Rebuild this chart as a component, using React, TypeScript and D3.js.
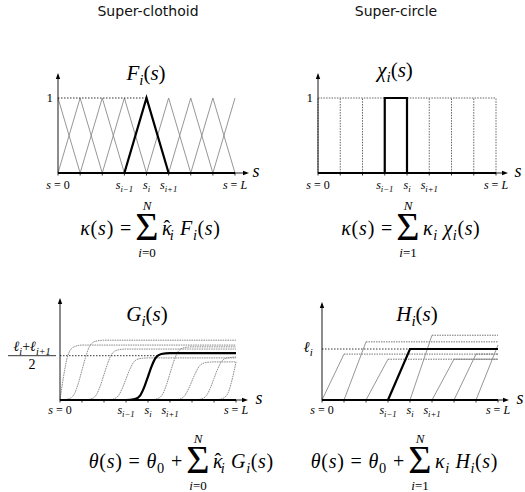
import React from 'react';
import * as d3 from 'd3';

// knots s_0 .. s_N (uniform), the highlighted index i
const knots = [0, 1, 2, 3, 4, 5, 6, 7, 8];
const active = 4;

// tick labels under the s axis: knot index -> label
const tickKnots = [0, 3, 4, 5, 8];

// plateau heights of G_0..G_8 (unit = (l_i + l_{i+1}) / 2)
const gLevels = [1.24, 1.35, 1.15, 0.95, 1.06, 1.2, 0.86, 0.97, 0.86];
// plateau heights of H_1..H_8 (unit = l_i)
const hLevels = [0.9, 1.14, 0.8, 1.0, 1.27, 0.8, 0.9, 1.08];

// S profile of G_j around its knot: [offset in knots, fraction of plateau]
const sProfile: [number, number][] = [
  [-1, 0], [-0.6, 0.02], [-0.35, 0.1], [-0.15, 0.3], [0, 0.5],
  [0.15, 0.7], [0.35, 0.9], [0.6, 0.98], [1, 1],
];

const MATH = 'Liberation Serif';
const SANS = 'DejaVu Sans';
const GRAY = '#8a8a8a';

type Tok = { t: string; it?: boolean; sub?: boolean; hat?: boolean };

function MathText({ x, y, toks, size, anchor = 'start', spacing }:
  { x: number; y: number; toks: Tok[]; size: number; anchor?: string; spacing?: number }) {
  let inSub = false;
  let pendDx = 0;
  const shift = size * 0.25;
  const spans: React.ReactNode[] = [];
  toks.forEach((tk, k) => {
    let dy: number | undefined;
    if (tk.sub && !inSub) dy = shift;
    else if (!tk.sub && inSub) dy = -shift;
    inSub = !!tk.sub;
    const fs = tk.sub ? size * 0.72 : size;
    spans.push(
      <tspan key={k} dx={pendDx || undefined} dy={dy} fontStyle={tk.it ? 'italic' : 'normal'} fontSize={fs}>{tk.t}</tspan>
    );
    pendDx = 0;
    if (tk.hat) {
      // circumflex placed over the previous glyph
      spans.push(
        <tspan key={k + 'h'} dx={-fs * 0.4 - (spacing || 0)} fontSize={fs}>{'\u02c6'}</tspan>
      );
      pendDx = -fs * 0.05;
    }
  });
  return (
    <text x={x} y={y} textAnchor={anchor} fontSize={size} fontFamily={MATH} letterSpacing={spacing}
      fill="#000" style={{ whiteSpace: 'pre' }}>{spans}</text>
  );
}

const tickToks = (k: number): Tok[] => {
  if (k === 0) return [{ t: 's', it: true }, { t: ' = 0' }];
  if (k === knots.length - 1) return [{ t: 's', it: true }, { t: ' = ' }, { t: 'L', it: true }];
  const d = k - active;
  const sub = d === 0 ? 'i' : d < 0 ? `i\u2212${-d}` : `i+${d}`;
  return [{ t: 's', it: true }, { t: sub, it: true, sub: true }];
};

type Panel = { x0: number; x1: number; y0: number; y1: number; yTop: number; xEnd: number };

function Frame({ p, x, labelY, sLabelX }: { p: Panel; x: d3.ScaleLinear<number, number>; labelY: number; sLabelX: number }) {
  return (
    <g>
      <line x1={p.x0} y1={p.y0} x2={p.x0} y2={p.yTop + 4} stroke="#000" strokeWidth={0.9} />
      <path d={`M${p.x0},${p.yTop} l-2.2,6 l4.4,0 z`} fill="#000" />
      <line x1={p.x0} y1={p.y0} x2={p.xEnd - 4} y2={p.y0} stroke="#000" strokeWidth={0.9} />
      <path d={`M${p.xEnd},${p.y0} l-6,-2.2 l0,4.4 z`} fill="#000" />
      {knots.map(k => (
        <line key={k} x1={x(k)} x2={x(k)} y1={p.y0} y2={p.y0 + 2.5} stroke="#000" strokeWidth={0.8} />
      ))}
      {tickKnots.map(k => (
        <MathText key={k} x={x(k)} y={labelY} toks={tickToks(k)} size={12} anchor="middle" />
      ))}
      <MathText x={sLabelX} y={p.y0 + 4} toks={[{ t: 's', it: true }]} size={18} anchor="middle" />
      {/* bold zero line of the highlighted function */}
      <line x1={x(0)} x2={x(knots.length - 1)} y1={p.y0} y2={p.y0} stroke="#000" strokeWidth={2.2} />
    </g>
  );
}

// a display formula: left part ends before the sum sign at cx, right part starts after it
function Formula({ y, cx, left, right, lower }:
  { y: number; cx: number; left: Tok[]; right: Tok[]; lower: string }) {
  return (
    <g>
      <MathText x={cx - 15} y={y} size={20} anchor="end" spacing={0.8} toks={left} />
      <text x={cx} y={y - 25} textAnchor="middle" fontStyle="italic" fontSize={13} fontFamily={MATH}>N</text>
      <text x={cx} y={y + 5} textAnchor="middle" fontSize={40} fontFamily={MATH}>{'\u03a3'}</text>
      <MathText x={cx} y={y + 22} anchor="middle" size={13}
        toks={[{ t: 'i', it: true }, { t: `=${lower}` }]} />
      <MathText x={cx + 15} y={y} size={20} spacing={0.6} toks={right} />
    </g>
  );
}

export default function App() {
  const last = knots.length - 1;

  // ---- top-left: F_i(s)
  const pF: Panel = { x0: 58, x1: 235, y0: 173, y1: 98, yTop: 73, xEnd: 249 };
  const xF = d3.scaleLinear().domain([0, last]).range([pF.x0, pF.x1]);
  const yF = d3.scaleLinear().domain([0, 1]).range([pF.y0, pF.y1]);
  const lineF = d3.line<[number, number]>().x(d => xF(d[0])).y(d => yF(d[1]));
  const hat = (j: number): [number, number][] =>
    ([[j - 1, 0], [j, 1], [j + 1, 0]] as [number, number][]).filter(d => d[0] >= 0 && d[0] <= last);

  // ---- top-right: chi_i(s)
  const pC: Panel = { x0: 318, x1: 496, y0: 173, y1: 98, yTop: 73, xEnd: 508 };
  const xC = d3.scaleLinear().domain([0, last]).range([pC.x0, pC.x1]);
  const yC = d3.scaleLinear().domain([0, 1]).range([pC.y0, pC.y1]);
  const lineC = d3.line<[number, number]>().x(d => xC(d[0])).y(d => yC(d[1]));

  // ---- bottom-left: G_i(s)
  const pG: Panel = { x0: 60, x1: 236, y0: 400, y1: 355.7, yTop: 298, xEnd: 248 };
  const xG = d3.scaleLinear().domain([0, last]).range([pG.x0, pG.x1]);
  const yG = d3.scaleLinear().domain([0, 1]).range([pG.y0, pG.y1]);
  const lineG = d3.line<[number, number]>().x(d => xG(d[0])).y(d => yG(d[1])).curve(d3.curveMonotoneX);
  const gPts = (j: number): [number, number][] => {
    const h = gLevels[j];
    let pts: [number, number][];
    if (j === 0) pts = sProfile.filter(d => d[0] >= 0).map(([o, f]) => [o, (f - 0.5) * 2 * h]);
    else if (j === last) pts = sProfile.filter(d => d[0] <= 0).map(([o, f]) => [last + o, f * 2 * h]);
    else pts = sProfile.map(([o, f]) => [j + o, f * h]);
    if (pts[0][0] > 0) pts.unshift([0, 0]);
    if (pts[pts.length - 1][0] < last) pts.push([last, h]);
    return pts;
  };

  // ---- bottom-right: H_i(s)
  const pH: Panel = { x0: 322, x1: 498, y0: 400, y1: 349, yTop: 302, xEnd: 509 };
  const xH = d3.scaleLinear().domain([0, last]).range([pH.x0, pH.x1]);
  const yH = d3.scaleLinear().domain([0, 1]).range([pH.y0, pH.y1]);
  const lineH = d3.line<[number, number]>().x(d => xH(d[0])).y(d => yH(d[1]));

  const fn = (name: string): Tok[] =>
    [{ t: name, it: true }, { t: 'i', it: true, sub: true }, { t: '(' }, { t: 's', it: true }, { t: ')' }];
  const kappaLeft: Tok[] = [{ t: '\u03ba', it: true }, { t: '(' }, { t: 's', it: true }, { t: ') =' }];
  const thetaLeft: Tok[] = [{ t: '\u03b8', it: true }, { t: '(' }, { t: 's', it: true }, { t: ') = ' },
    { t: '\u03b8', it: true }, { t: '0', sub: true }, { t: ' +' }];
  const termRight = (coefHat: boolean, name: string): Tok[] => [
    { t: '\u03ba', it: true, hat: coefHat }, { t: 'i', it: true, sub: true }, { t: ' ' },
    ...fn(name),
  ];

  return (
    <svg width={525} height={492} style={{ position: 'absolute', left: 0, top: 0, background: '#fff' }}>
      {/* column headers */}
      <text x={148} y={16} textAnchor="middle" fontSize={14} fill="#111" fontFamily={SANS}>Super-clothoid</text>
      <text x={396} y={16} textAnchor="middle" fontSize={14} fill="#111" fontFamily={SANS}>Super-circle</text>

      {/* ===== F_i ===== */}
      <g>
        {knots.map(j => (
          <path key={j} d={lineF(hat(j)) || ''} fill="none" stroke={GRAY} strokeWidth={0.9} />
        ))}
        <line x1={xF(0)} x2={xF(active)} y1={yF(1)} y2={yF(1)} stroke="#000" strokeWidth={0.8} strokeDasharray="1.5 1.5" />
        <Frame p={pF} x={xF} labelY={189} sLabelX={256} />
        <path d={lineF(hat(active)) || ''} fill="none" stroke="#000" strokeWidth={2.2} strokeLinejoin="miter" />
        <MathText x={pF.x0 - 5} y={102} size={13} anchor="end" toks={[{ t: '1' }]} />
        <MathText x={146} y={80} size={21} anchor="middle" toks={fn('F')} />
      </g>

      {/* ===== chi_i ===== */}
      <g>
        {knots.map(j => (
          <line key={j} x1={xC(j)} x2={xC(j)} y1={yC(0)} y2={yC(1)} stroke="#555" strokeWidth={0.9} strokeDasharray="1.5 1.2" />
        ))}
        <line x1={xC(0)} x2={xC(last)} y1={yC(1)} y2={yC(1)} stroke="#555" strokeWidth={0.9} strokeDasharray="1.5 1.2" />
        <Frame p={pC} x={xC} labelY={189} sLabelX={518} />
        <path d={lineC([[active - 1, 0], [active - 1, 1], [active, 1], [active, 0]]) || ''}
          fill="none" stroke="#000" strokeWidth={2.2} />
        <MathText x={pC.x0 - 5} y={102} size={13} anchor="end" toks={[{ t: '1' }]} />
        <MathText x={395} y={77} size={21} anchor="middle" toks={fn('\u03c7')} />
      </g>

      {/* ===== G_i ===== */}
      <g>
        {knots.filter(j => j !== active).map(j => (
          <path key={j} d={lineG(gPts(j)) || ''} fill="none" stroke="#777" strokeWidth={0.85} strokeDasharray="1.6 0.8" />
        ))}
        <line x1={xG(0)} x2={xG(active + 0.45)} y1={yG(1)} y2={yG(1)} stroke="#000" strokeWidth={0.8} strokeDasharray="1.5 1.5" />
        <Frame p={pG} x={xG} labelY={414} sLabelX={259} />
        <path d={lineG(gPts(active)) || ''} fill="none" stroke="#000" strokeWidth={2.2} />
        {/* (l_i + l_{i+1}) / 2 */}
        <MathText x={32} y={351} size={14} anchor="middle"
          toks={[{ t: '\u2113', it: true }, { t: 'i', it: true, sub: true }, { t: '+' }, { t: '\u2113', it: true }, { t: 'i+1', it: true, sub: true }]} />
        <line x1={8} x2={56} y1={yG(1)} y2={yG(1)} stroke="#000" strokeWidth={0.8} />
        <MathText x={32} y={369} size={14} anchor="middle" toks={[{ t: '2' }]} />
        <MathText x={147} y={321} size={21} anchor="middle" toks={fn('G')} />
      </g>

      {/* ===== H_i ===== */}
      <g>
        {hLevels.map((h, k) => {
          const j = k + 1;
          if (j === active) return null;
          return (
            <g key={j}>
              <path d={lineH([[j - 1, 0], [j, h]]) || ''} fill="none" stroke={GRAY} strokeWidth={0.9} />
              {j < last && (
                <path d={lineH([[j, h], [last, h]]) || ''} fill="none" stroke="#666" strokeWidth={0.9} strokeDasharray="1.5 1" />
              )}
            </g>
          );
        })}
        <line x1={xH(0)} x2={xH(active)} y1={yH(1)} y2={yH(1)} stroke="#000" strokeWidth={0.8} strokeDasharray="1.5 1.5" />
        <Frame p={pH} x={xH} labelY={414} sLabelX={520} />
        <path d={lineH([[active - 1, 0], [active, hLevels[active - 1]], [last, hLevels[active - 1]]]) || ''}
          fill="none" stroke="#000" strokeWidth={2.2} />
        <MathText x={308} y={352} size={15} anchor="middle"
          toks={[{ t: '\u2113', it: true }, { t: 'i', it: true, sub: true }]} />
        <MathText x={417} y={321} size={21} anchor="middle" toks={fn('H')} />
      </g>

      {/* ===== formulas ===== */}
      <Formula y={235} cx={147} left={kappaLeft} right={termRight(true, 'F')} lower="0" />
      <Formula y={235} cx={408} left={kappaLeft} right={termRight(false, '\u03c7')} lower="1" />
      <Formula y={468} cx={198} left={thetaLeft} right={termRight(true, 'G')} lower="0" />
      <Formula y={468} cx={420} left={thetaLeft} right={termRight(false, 'H')} lower="1" />
    </svg>
  );
}
